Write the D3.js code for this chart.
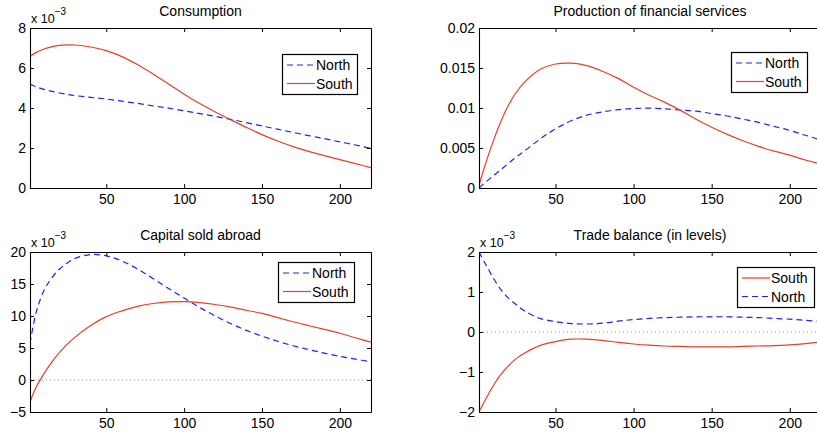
<!DOCTYPE html>
<html><head><meta charset="utf-8">
<script src="https://cdn.jsdelivr.net/npm/d3@7"></script>
<style>
body{margin:0;background:#fff;}
svg{display:block;}
text{font-family:"Liberation Sans",Arial,Helvetica,sans-serif;fill:#000;}
</style>
</head><body>
<svg id="c" width="817" height="436"></svg>
<script>
// ---- data ----
const T = [1,5,10,15,20,25,30,40,50,60,70,80,90,100,110,120,130,140,150,160,170,180,190,200,210,220];

// Consumption (x 1e-3)
const consumptionNorth = [5.2,5.06,4.93,4.83,4.75,4.68,4.62,4.53,4.45,4.34,4.23,4.11,3.99,3.86,3.72,3.58,3.43,3.27,3.1,2.94,2.78,2.62,2.47,2.31,2.15,1.98];
const consumptionSouth = [6.57,6.78,6.95,7.06,7.13,7.16,7.15,7.05,6.87,6.57,6.17,5.7,5.2,4.69,4.22,3.8,3.41,3.03,2.67,2.35,2.07,1.83,1.62,1.42,1.22,1.02];

// Production of financial services
const financialNorth = [0,0.0007,0.0015,0.0023,0.0031,0.0039,0.0046,0.0061,0.0074,0.0084,0.0091,0.0095,0.0098,0.00993,0.00998,0.0099,0.00975,0.0096,0.0093,0.009,0.0086,0.0082,0.0077,0.0072,0.0066,0.006];
const financialSouth = [0.0003,0.0029,0.0058,0.0083,0.0104,0.012,0.0132,0.0148,0.0155,0.0156,0.0153,0.0146,0.0137,0.0126,0.0116,0.0107,0.0097,0.0086,0.0076,0.0067,0.0059,0.0052,0.0046,0.0041,0.0035,0.003];

// Capital sold abroad (x 1e-3)
const capitalNorth = [5.7,10.6,14.0,15.95,17.35,18.3,19.0,19.6,19.4,18.6,17.35,15.85,14.3,12.8,11.35,10.0,8.8,7.75,6.85,6.05,5.35,4.75,4.2,3.7,3.25,2.86];
const capitalSouth = [-3.4,-1.1,1.0,2.8,4.3,5.6,6.7,8.5,9.9,10.8,11.5,11.95,12.2,12.25,12.1,11.8,11.4,10.9,10.4,9.75,9.1,8.5,7.9,7.3,6.6,5.9];

// Trade balance (x 1e-3)
const tradeNorth = [2.0,1.71,1.36,1.06,0.84,0.68,0.53,0.34,0.26,0.21,0.2,0.22,0.27,0.31,0.34,0.36,0.37,0.38,0.38,0.38,0.37,0.36,0.34,0.32,0.29,0.26];
const tradeSouth = [-2.0,-1.7,-1.35,-1.06,-0.84,-0.66,-0.53,-0.34,-0.24,-0.18,-0.18,-0.21,-0.26,-0.3,-0.33,-0.35,-0.36,-0.37,-0.37,-0.37,-0.36,-0.35,-0.34,-0.32,-0.29,-0.25];

const xTicks = [50,100,150,200];
const consumptionTicks = [0,2,4,6,8];
const financialTicks = [0,0.005,0.01,0.015,0.02];
const capitalTicks = [-5,0,5,10,15,20];
const tradeTicks = [-2,-1,0,1,2];

// ---- layout / style ----
const RED = "#e5402a", BLUE = "#2020ff";
const H = 160;
const fmt = d => d < 0 ? "\u2212" + Math.abs(d) : String(d);

const panels = [
  {title:"Consumption", left:30, top:28, w:341, yDomain:[0,8], yTicks:consumptionTicks, mult:true, zero:false,
   legend:{x:282,y:54,w:75},
   series:[{name:"North",values:consumptionNorth,kind:"N"},{name:"South",values:consumptionSouth,kind:"S"}]},
  {title:"Production of financial services", left:479, top:28, w:342, yDomain:[0,0.02], yTicks:financialTicks, mult:false, zero:false,
   legend:{x:731,y:52,w:76},
   series:[{name:"North",values:financialNorth,kind:"N"},{name:"South",values:financialSouth,kind:"S"}]},
  {title:"Capital sold abroad", left:30, top:252, w:341, yDomain:[-5,20], yTicks:capitalTicks, mult:true, zero:true,
   legend:{x:278,y:262,w:76},
   series:[{name:"North",values:capitalNorth,kind:"N"},{name:"South",values:capitalSouth,kind:"S"}]},
  {title:"Trade balance (in levels)", left:479, top:252, w:342, yDomain:[-2,2], yTicks:tradeTicks, mult:true, zero:true,
   legend:{x:737,y:267,w:77},
   series:[{name:"South",values:tradeSouth,kind:"S"},{name:"North",values:tradeNorth,kind:"N"}]}
];

const svg = d3.select("#c");

function styleLine(sel, kind){
  sel.attr("fill","none")
     .attr("stroke", kind==="S" ? RED : BLUE)
     .attr("stroke-width", 1.2)
     .attr("stroke-dasharray", kind==="S" ? null : "6,4");
}

panels.forEach((p,i) => {
  const w = p.w;
  const x = d3.scaleLinear().domain([1,220]).range([p.left, p.left + w]);
  const y = d3.scaleLinear().domain(p.yDomain).range([p.top + H, p.top]);
  const g = svg.append("g");

  const clipId = "clip" + i;
  svg.append("clipPath").attr("id", clipId).append("rect")
    .attr("x", p.left).attr("y", p.top).attr("width", w).attr("height", H);

  if (p.zero) {
    g.append("line")
      .attr("x1", p.left).attr("x2", p.left + w)
      .attr("y1", y(0)).attr("y2", y(0))
      .attr("stroke", "#888").attr("stroke-width", 1).attr("stroke-dasharray", "1,3");
  }

  const line = d3.line().x((d,j) => x(T[j])).y(d => y(d)).curve(d3.curveCatmullRom.alpha(0.5));
  const lines = g.append("g").attr("clip-path", `url(#${clipId})`);
  p.series.forEach(s => {
    lines.append("path").datum(s.values).attr("d", line).call(styleLine, s.kind);
  });

  const bottom = g.append("g").attr("transform", `translate(0,${p.top + H})`)
    .call(d3.axisBottom(x).tickValues(xTicks).tickSizeInner(-4).tickSizeOuter(0).tickPadding(6).tickFormat(fmt));
  const top = g.append("g").attr("transform", `translate(0,${p.top})`)
    .call(d3.axisTop(x).tickValues(xTicks).tickSizeInner(-4).tickSizeOuter(0).tickFormat(""));
  const left = g.append("g").attr("transform", `translate(${p.left},0)`)
    .call(d3.axisLeft(y).tickValues(p.yTicks).tickSizeInner(-4).tickSizeOuter(0).tickPadding(4).tickFormat(fmt));
  const right = g.append("g").attr("transform", `translate(${p.left + w},0)`)
    .call(d3.axisRight(y).tickValues(p.yTicks).tickSizeInner(-4).tickSizeOuter(0).tickFormat(""));
  [bottom, top, left, right].forEach(a => {
    a.attr("font-size", null).attr("font-family", null);
    a.selectAll("path.domain").attr("stroke", "#000").attr("stroke-width", 1.1);
    a.selectAll(".tick line").attr("stroke", "#000").attr("stroke-width", 1);
    a.selectAll(".tick text").style("font-size", "14px").attr("fill", "#000");
  });

  g.append("text").attr("x", p.left + w/2).attr("y", p.top - 12)
    .attr("text-anchor", "middle").style("font-size", "14px").text(p.title);

  if (p.mult) {
    const t = g.append("text").attr("x", p.left + 1).attr("y", p.top - 5).style("font-size", "12.5px");
    t.append("tspan").text("x 10");
    t.append("tspan").attr("dy", -8).style("font-size", "10px").text("\u22123");
  }

  const L = p.legend;
  const lg = g.append("g");
  lg.append("rect").attr("x", L.x + 0.5).attr("y", L.y + 0.5).attr("width", L.w).attr("height", 40)
    .attr("fill", "#fff").attr("stroke", "#000").attr("stroke-width", 1.2);
  p.series.forEach((s, k) => {
    const cy = L.y + 11 + k * 18.5;
    lg.append("line").attr("x1", L.x + 5).attr("x2", L.x + 33).attr("y1", cy).attr("y2", cy).call(styleLine, s.kind);
    lg.append("text").attr("x", L.x + 34).attr("y", cy + 5).style("font-size", "14px").text(s.name);
  });
});
</script>
</body></html>
